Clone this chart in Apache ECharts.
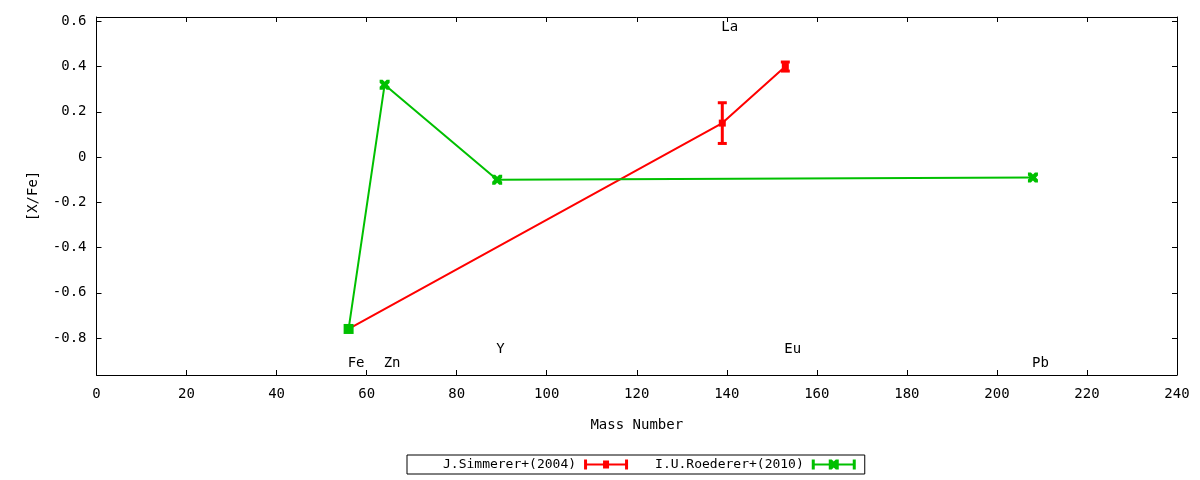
<!DOCTYPE html>
<html><head><meta charset="utf-8">
<script src="https://cdn.jsdelivr.net/npm/echarts@6/dist/echarts.min.js"></script>
<style>html,body{margin:0;padding:0;background:#fff}#c{width:1200px;height:480px}</style>
</head><body><div id="c"></div>
<script>
const simName = 'J.Simmerer+(2004)';
const simX = [56, 139, 153];
const simY = [-0.76, 0.15, 0.40];
const simErr = [0, 0.09, 0.02];
const roeName = 'I.U.Roederer+(2010)';
const roeX = [56, 64, 89, 208];
const roeY = [-0.76, 0.32, -0.10, -0.09];
const elemNames = ['Fe', 'Zn', 'Y', 'La', 'Eu', 'Pb'];
const elemX = [56, 64, 89, 139, 153, 208];
const elemY = [-0.91, -0.91, -0.85, 0.575, -0.85, -0.91];
const yTicks = [-0.8, -0.6, -0.4, -0.2, 0, 0.2, 0.4, 0.6];

const FONT = '"DejaVu Sans Mono", monospace';
const FS = 14;
const RED = '#ff0000';
const GREEN = '#00c000';
const xMark = 'path://M0,0 L3,0 L5,2 L7,0 L10,0 L10,3 L8,5 L10,7 L10,10 L7,10 L5,8 L3,10 L0,10 L0,7 L2,5 L0,3 Z';
const redIcon = 'path://M0,0 L3,0 L3,4 L19,4 L19,1 L25,1 L25,4 L41,4 L41,0 L44,0 L44,10 L41,10 L41,6 L25,6 L25,9 L19,9 L19,6 L3,6 L3,10 L0,10 Z';
const greenIcon = 'path://M0,0 L3,0 L3,4 L17,4 L17,0 L20,0 L22,2 L24,0 L27,0 L27,4 L41,4 L41,0 L44,0 L44,10 L41,10 L41,6 L27,6 L27,10 L24,10 L22,8 L20,10 L17,10 L17,6 L3,6 L3,10 L0,10 Z';

const chart = echarts.init(document.getElementById('c'), null, {renderer: 'canvas'});

const axisCommon = {
  axisLine: {show: true, onZero: false, lineStyle: {color: '#000', width: 1}},
  axisTick: {show: true, inside: true, length: 5, lineStyle: {color: '#000'}},
  splitLine: {show: false}
};

chart.setOption({
  animation: false,
  backgroundColor: '#fff',
  textStyle: {fontFamily: FONT},
  grid: {left: 96.5, right: 23, top: 17, bottom: 105, containLabel: false},
  legend: {
    data: [{name: simName, icon: redIcon}, {name: roeName, icon: greenIcon}],
    left: 407, top: 455,
    align: 'right',
    itemWidth: 44, itemHeight: 10, itemGap: 27,
    padding: [3, 9, 3, 36],
    borderColor: '#000', borderWidth: 1,
    textStyle: {fontFamily: FONT, fontSize: 13, color: '#000', padding: [0, 3, 0, 0]},
    selectedMode: false
  },
  xAxis: [
    Object.assign({}, axisCommon, {
      type: 'value', min: 0, max: 240, interval: 20, position: 'bottom',
      axisLabel: {margin: 12, fontFamily: FONT, fontSize: FS, color: '#000'},
      name: 'Mass Number', nameLocation: 'middle', nameGap: 43,
      nameTextStyle: {fontFamily: FONT, fontSize: FS, color: '#000'}
    }),
    Object.assign({}, axisCommon, {
      type: 'value', min: 0, max: 240, interval: 20, position: 'top',
      axisLabel: {show: false}
    })
  ],
  yAxis: [
    Object.assign({}, axisCommon, {
      type: 'value', min: -0.9635, max: 0.619, position: 'left',
      axisTick: {show: true, inside: true, length: 5, lineStyle: {color: '#000'}, customValues: yTicks},
      axisLabel: {margin: 10, fontFamily: FONT, fontSize: FS, color: '#000', customValues: yTicks,
        formatter: v => String(Math.round(v * 10) / 10)},
      name: '[X/Fe]', nameLocation: 'middle', nameGap: 56, nameRotate: 90,
      nameTextStyle: {fontFamily: FONT, fontSize: FS, color: '#000'}
    }),
    Object.assign({}, axisCommon, {
      type: 'value', min: -0.9635, max: 0.619, position: 'right',
      axisTick: {show: true, inside: true, length: 5, lineStyle: {color: '#000'}, customValues: yTicks},
      axisLabel: {show: false}
    })
  ],
  series: [
    {
      name: simName, type: 'line',
      data: simX.map((x, i) => [x, simY[i]]),
      lineStyle: {color: RED, width: 2},
      itemStyle: {color: RED},
      symbol: 'rect', symbolSize: 7, z: 2
    },
    {
      name: simName + ' err', type: 'custom',
      data: simX.map((x, i) => [x, simY[i], simErr[i]]),
      renderItem: function (params, api) {
        const x = api.value(0), y = api.value(1), e = api.value(2);
        if (!e) return null;
        const t = api.coord([x, y + e]);
        const b = api.coord([x, y - e]);
        return {
          type: 'group',
          children: [
            {type: 'rect', shape: {x: t[0] - 1.5, y: t[1], width: 3, height: b[1] - t[1]}, style: {fill: RED}},
            {type: 'rect', shape: {x: t[0] - 4.5, y: t[1] - 1.5, width: 9, height: 3}, style: {fill: RED}},
            {type: 'rect', shape: {x: b[0] - 4.5, y: b[1] - 1.5, width: 9, height: 3}, style: {fill: RED}}
          ]
        };
      },
      z: 2, silent: true
    },
    {
      name: roeName, type: 'line',
      data: roeX.map((x, i) => (i === 0 ? {value: [x, roeY[i]], symbol: 'rect'} : [x, roeY[i]])),
      lineStyle: {color: GREEN, width: 2},
      itemStyle: {color: GREEN},
      symbol: xMark, symbolSize: 10, z: 3
    },
    {
      name: 'labels', type: 'scatter',
      data: elemX.map((x, i) => ({name: elemNames[i], value: [x, elemY[i]]})),
      symbolSize: 0.1, itemStyle: {color: '#fff', opacity: 1}, silent: true,
      label: {show: true, position: 'right', distance: -1, formatter: p => p.name,
        fontFamily: FONT, fontSize: FS, color: '#000', opacity: 1},
      z: 4
    }
  ]
});
</script>
</body></html>
